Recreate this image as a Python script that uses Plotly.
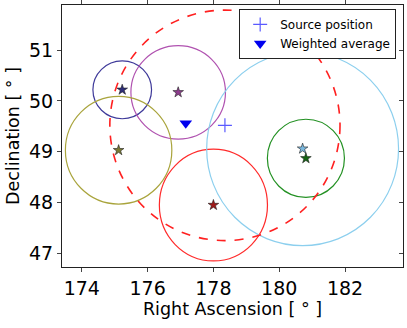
import numpy as np
import plotly.graph_objects as go

# sources: centre (RA, Dec), error radius in deg of declination
src_ra = [175.23, 176.93, 175.12, 178.00, 180.71, 180.81]
src_dec = [50.22, 50.17, 49.03, 47.95, 49.06, 48.87]
src_r = [0.57, 0.92, 1.06, 1.10, 1.91, 0.77]
ring_colors = ['#3f3a9a', '#b052b0', '#a9a43c', '#ff2a2a', '#8ccfee', '#229022']
star_colors = ['#2e2e78', '#8c3c8c', '#7a7a32', '#a01818', '#7ab8de', '#146414']

source_pos = (178.35, 49.52)
source_r = 2.27
weighted_avg = (177.16, 49.56)

x_ticks = [174, 176, 178, 180, 182]
y_ticks = [47, 48, 49, 50, 51]
x_range = [173.4, 183.76]
y_range = [46.73, 51.89]

FONT = "DejaVu Sans"

fig = go.Figure()


def circle_shape(ra, dec, r, color, dash="solid", width=1.2):
    # radius r on the sky -> stretch RA by 1/cos(dec)
    rx = r / np.cos(np.radians(dec))
    return dict(type="circle", xref="x", yref="y",
                x0=ra - rx, x1=ra + rx, y0=dec - r, y1=dec + r,
                line=dict(color=color, width=width, dash=dash))


shapes = []
for ra, dec, r, c in zip(src_ra, src_dec, src_r, ring_colors):
    shapes.append(circle_shape(ra, dec, r, c))
shapes.append(circle_shape(source_pos[0], source_pos[1], source_r, "#ff2020",
                           dash="dash", width=1.6))

for ra, dec, c in zip(src_ra, src_dec, star_colors):
    fig.add_trace(go.Scatter(x=[ra], y=[dec], mode="markers", showlegend=False,
                             marker=dict(symbol="star", size=8, color=c,
                                         line=dict(color="#222222", width=0.6))))

fig.add_trace(go.Scatter(x=[source_pos[0]], y=[source_pos[1]], mode="markers",
                         name="Source position",
                         marker=dict(symbol="cross-thin", size=10,
                                     line=dict(color="#5a5aff", width=1.2))))
fig.add_trace(go.Scatter(x=[weighted_avg[0]], y=[weighted_avg[1]], mode="markers",
                         name="Weighted average",
                         marker=dict(symbol="triangle-down", size=11, color="#0000ee")))

# dummy trace to carry the right-hand inner ticks
fig.add_trace(go.Scatter(x=[None], y=[None], yaxis="y2", showlegend=False,
                         hoverinfo="skip"))

fig.update_layout(
    width=407, height=328,
    margin=dict(l=62, r=4, t=5, b=61),
    plot_bgcolor="white", paper_bgcolor="white",
    font=dict(family=FONT, color="black"),
    shapes=shapes,
    showlegend=True,
    legend=dict(x=0.98, y=0.985, xanchor="right", yanchor="top",
                bordercolor="#222222", borderwidth=1, bgcolor="white",
                font=dict(size=12, family=FONT), itemwidth=30,
                tracegroupgap=0),
    xaxis=dict(range=x_range, tickvals=x_ticks, showgrid=False, zeroline=False,
               automargin=False,
               ticks="outside", ticklen=4, tickcolor="#444", mirror="ticks",
               showline=True, linecolor="#222", linewidth=1.2,
               tickfont=dict(size=19), title=dict(text="Right Ascension [ ° ]",
                                                  font=dict(size=17.5), standoff=4)),
    yaxis=dict(range=y_range, tickvals=y_ticks, showgrid=False, zeroline=False,
               automargin=False,
               ticks="outside", ticklen=4, tickcolor="#444", mirror=True,
               showline=True, linecolor="#222", linewidth=1.2,
               tickfont=dict(size=19), title=dict(text="Declination [ ° ]",
                                                  font=dict(size=17.5), standoff=4)),
    yaxis2=dict(range=y_range, tickvals=y_ticks, overlaying="y", side="right",
                showgrid=False, zeroline=False, showticklabels=False,
                automargin=False,
                ticks="inside", ticklen=4, tickcolor="#444", showline=False),
)

fig.write_html("out.html", config={"displayModeBar": False},
               post_script="document.body.style.margin='0';")
